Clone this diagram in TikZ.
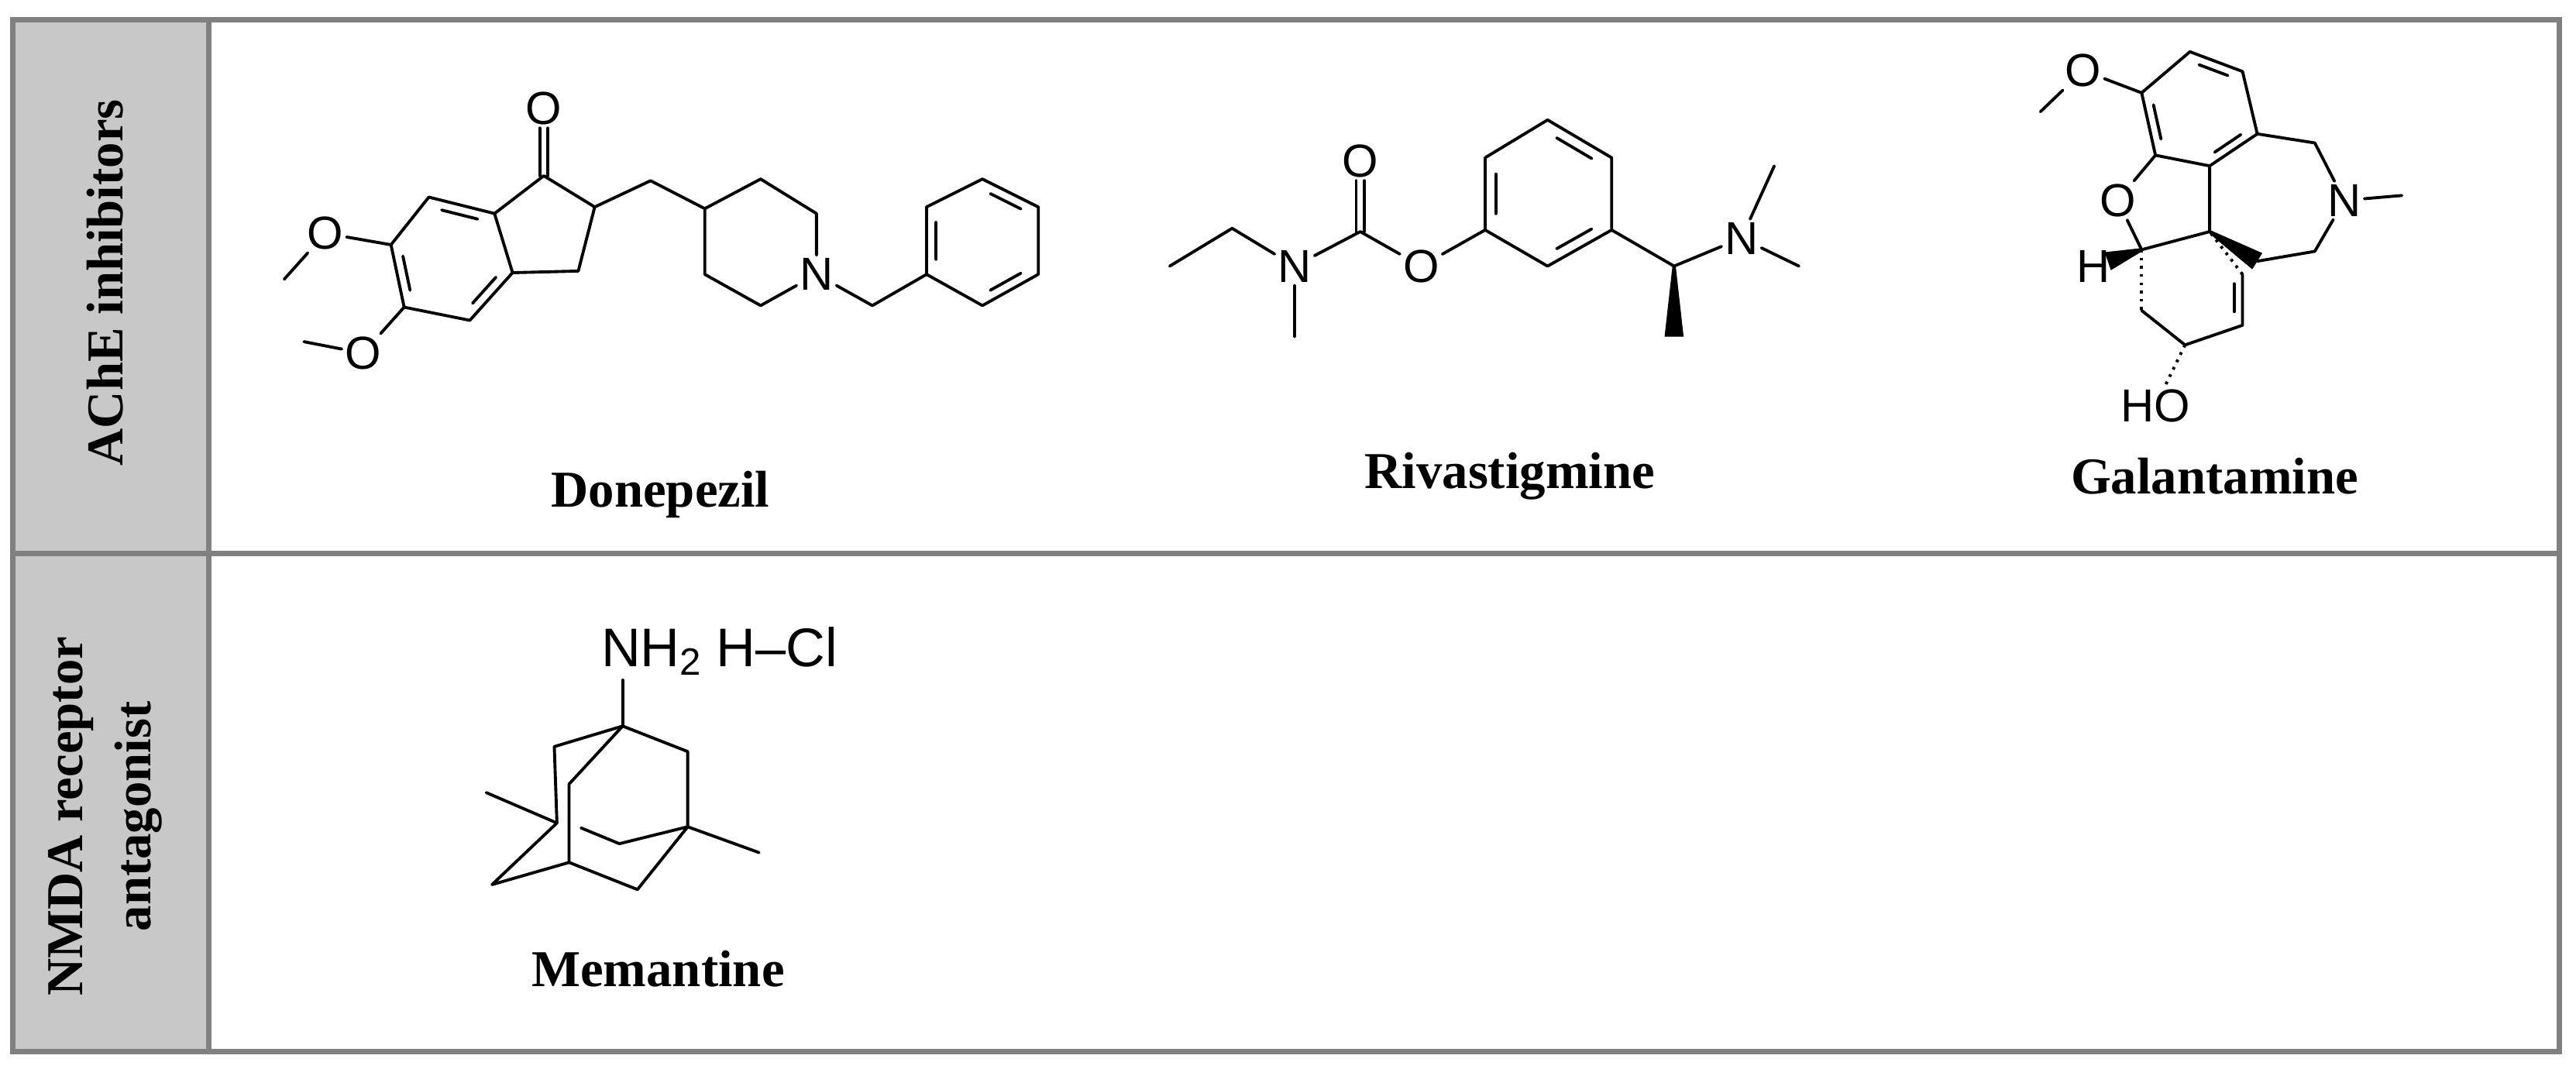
\documentclass[tikz,border=0pt]{standalone}
\usepackage{fontspec}
\setmainfont{Liberation Serif}
\newfontfamily\chem{Liberation Sans}
\usetikzlibrary{calc}
\definecolor{hdrgray}{HTML}{C8C8C8}
\definecolor{framegray}{HTML}{808080}
\tikzset{
  bond/.style={line width=1.1pt, line join=round, line cap=round},
  atom/.style={font=\chem\fontsize{17}{17}\selectfont, inner sep=1pt},
  bigatom/.style={font=\chem\fontsize{20}{20}\selectfont, inner sep=1pt},
  drugname/.style={font=\bfseries\fontsize{19}{21}\selectfont},
  hdr/.style={font=\bfseries\fontsize{19}{25}\selectfont, rotate=90, align=center},
  hashb/.style={line width=1.1pt, dash pattern=on 1pt off 2pt},
}
\newcommand{\dbl}[3]{\draw[bond] ($($(#1)!0.17!(#2)$)!0.17!(#3)$) -- ($($(#2)!0.17!(#1)$)!0.17!(#3)$);}
\newcommand{\wdg}[2]{\fill ($(#1)!0.6pt!90:(#2)$) -- ($(#1)!0.6pt!-90:(#2)$) -- ($(#2)!3.5pt!90:(#1)$) -- ($(#2)!3.5pt!-90:(#1)$) -- cycle;}
\begin{document}
\begin{tikzpicture}[x=0.021205cm, y=-0.021205cm]
\useasboundingbox (0,0) rectangle (1568,655);
% frame
\fill[hdrgray] (8,12) rectangle (127,640);
\draw[framegray, line width=2pt] (8,12) rectangle (1558,640);
\draw[framegray, line width=2pt] (127,12) -- (127,640);
\draw[framegray, line width=2pt] (8,337) -- (1558,337);
\node[hdr] (h1) at (64,172) {AChE inhibitors};
\node[hdr] (h2) at (64,497) {NMDA receptor\\antagonist};

% ---------- Donepezil
\coordinate (d1) at (331,107); \coordinate (d2) at (362,126); \coordinate (d3) at (352,165);
\coordinate (d3a) at (312,166); \coordinate (d7a) at (301,130); \coordinate (d7) at (261,120);
\coordinate (d6) at (238,149); \coordinate (d5) at (246,187); \coordinate (d4) at (286,195);
\coordinate (dcb) at (274,158);
\node[atom] (dO) at (331,66) {O};
\draw[bond] ($(d1)+(-2.5,0)$) -- ($(dO.south)+(-2.5,0)$);
\draw[bond] ($(d1)+(2.5,0)$) -- ($(dO.south)+(2.5,0)$);
\draw[bond] (d1)--(d2)--(d3)--(d3a)--(d7a)--cycle;
\draw[bond] (d7a)--(d7)--(d6)--(d5)--(d4)--(d3a);
\dbl{d7}{d7a}{dcb} \dbl{d6}{d5}{dcb} \dbl{d4}{d3a}{dcb}
\node[atom] (dOa) at (198,142) {O}; \coordinate (dMa) at (173,170);
\node[atom] (dOb) at (221,215) {O}; \coordinate (dMb) at (185,208);
\draw[bond] (d6)--(dOa)--(dMa);
\draw[bond] (d5)--(dOb)--(dMb);
\coordinate (dm) at (396,110);
\coordinate (p4) at (429,127); \coordinate (p3) at (463,109); \coordinate (p2) at (497,130);
\node[atom] (pN) at (497,167) {N};
\coordinate (p6) at (463,186); \coordinate (p5) at (429,167);
\draw[bond] (d2)--(dm)--(p4)--(p3)--(p2)--(pN)--(p6)--(p5)--(p4);
\coordinate (bm) at (531,186);
\coordinate (b1) at (564,167); \coordinate (b2) at (564,126); \coordinate (b3) at (598,109);
\coordinate (b4) at (632,126); \coordinate (b5) at (632,167); \coordinate (b6) at (598,186);
\coordinate (bc) at (598,147);
\draw[bond] (pN)--(bm)--(b1)--(b2)--(b3)--(b4)--(b5)--(b6)--(b1);
\dbl{b1}{b2}{bc} \dbl{b3}{b4}{bc} \dbl{b5}{b6}{bc}
\node[drugname] (nd) at (402,301) {Donepezil};

% ---------- Rivastigmine
\coordinate (re1) at (712,162); \coordinate (re2) at (750,139);
\node[atom] (rN) at (788,162) {N};
\coordinate (rNm) at (788,205);
\coordinate (rC) at (828,141);
\node[atom] (rO1) at (828,98) {O};
\node[atom] (rO2) at (865,162) {O};
\coordinate (r1) at (904,140); \coordinate (r2) at (904,96); \coordinate (r3) at (942,73);
\coordinate (r4) at (981,96); \coordinate (r5) at (981,140); \coordinate (r6) at (942,162);
\coordinate (rc) at (942,118);
\draw[bond] (re1)--(re2)--(rN)--(rNm);
\draw[bond] (rN)--(rC)--(rO2)--(r1);
\draw[bond] ($(rC)+(-2.5,0)$) -- ($(rO1.south)+(-2.5,0)$);
\draw[bond] ($(rC)+(2.5,0)$) -- ($(rO1.south)+(2.5,0)$);
\draw[bond] (r1)--(r2)--(r3)--(r4)--(r5)--(r6)--cycle;
\dbl{r1}{r2}{rc} \dbl{r3}{r4}{rc} \dbl{r5}{r6}{rc}
\coordinate (rCH) at (1019,162); \coordinate (rMe) at (1019,205);
\node[atom] (rN2) at (1060,145) {N};
\coordinate (rM1) at (1080,101); \coordinate (rM2) at (1095,162);
\draw[bond] (r5)--(rCH)--(rN2)--(rM1);
\draw[bond] (rN2)--(rM2);
\wdg{rCH}{rMe}
\node[drugname] (nr) at (919,290) {Rivastigmine};

% ---------- Galantamine
\node[atom] (gO1) at (1268,43) {O}; \coordinate (gM) at (1242,68);
\coordinate (gA1) at (1303.6,56.5); \coordinate (gA2) at (1333,31.5); \coordinate (gA3) at (1365,43.5);
\coordinate (gA4) at (1374,81.5); \coordinate (gA5) at (1345,101); \coordinate (gA6) at (1312,94.5);
\coordinate (gAc) at (1339,68);
\draw[bond] (gA1)--(gA2)--(gA3)--(gA4)--(gA5)--(gA6)--cycle;
\dbl{gA2}{gA3}{gAc} \dbl{gA1}{gA6}{gAc} \dbl{gA4}{gA5}{gAc}
\draw[bond] (gA1)--(gO1)--(gM);
\node[atom] (gO2) at (1289,122) {O};
\coordinate (gCH) at (1303.6,152);
\coordinate (gQ) at (1345,141);
\coordinate (gW) at (1374,159);
\coordinate (gC1) at (1409,87);
\node[atom] (gN) at (1427,122) {N};
\coordinate (gNm) at (1462,119);
\coordinate (gC2) at (1409,153);
\draw[bond] (gA6)--(gO2)--(gCH)--(gQ)--(gA5);
\draw[bond] (gA4)--(gC1)--(gN)--(gNm);
\draw[bond] (gN)--(gC2)--(gW);
\wdg{gQ}{gW}
\node[atom] (gH) at (1274,162) {H};
\coordinate (gHw) at (1283,159);
\wdg{gCH}{gHw}
\coordinate (gC5) at (1303.6,189); \coordinate (gC6) at (1330,210);
\coordinate (gC7) at (1365,198); \coordinate (gC8) at (1365,167);
\coordinate (gRc) at (1335,175);
\draw[hashb] (gCH)--(gC5);
\draw[bond] (gC5)--(gC6)--(gC7)--(gC8);
\draw[hashb] (gC8)--(gQ);
\dbl{gC7}{gC8}{gRc}
\node[atom] (gHO) at (1312,247) {HO};
\draw[hashb] (gC6)--(gHO);
\node[drugname] (ng) at (1348,290) {Galantamine};

% ---------- Memantine
\node[bigatom, anchor=base west] (mN) at (364,406) {NH\textsubscript{2}};
\node[bigatom, anchor=base west] (mHCl) at (434,406) {H–Cl};
\coordinate (mC1) at (379,442);
\coordinate (ma) at (337.4,454.5); \coordinate (mb) at (339,501);
\coordinate (mc) at (418.6,457.5); \coordinate (md) at (418.6,503.3);
\coordinate (me) at (346.4,477.3); \coordinate (mf) at (346.4,525);
\coordinate (mg) at (299.5,538.5); \coordinate (mh) at (388,541.5);
\coordinate (mi) at (377,513.6); \coordinate (mj) at (353.7,504);
\coordinate (mk) at (296,482.5); \coordinate (ml) at (462,519);
\draw[bond] (mC1) -- (379,414);
\draw[bond] (mC1)--(ma)--(mb);
\draw[bond] (mC1)--(mc)--(md);
\draw[bond] (mC1)--(me)--(mf);
\draw[bond] (mb)--(mg)--(mf)--(mh)--(md)--(mi)--(mj);
\draw[bond] (mb)--(mk);
\draw[bond] (md)--(ml);
\node[drugname] (nm) at (400.6,590) {Memantine};
\end{tikzpicture}
\end{document}
